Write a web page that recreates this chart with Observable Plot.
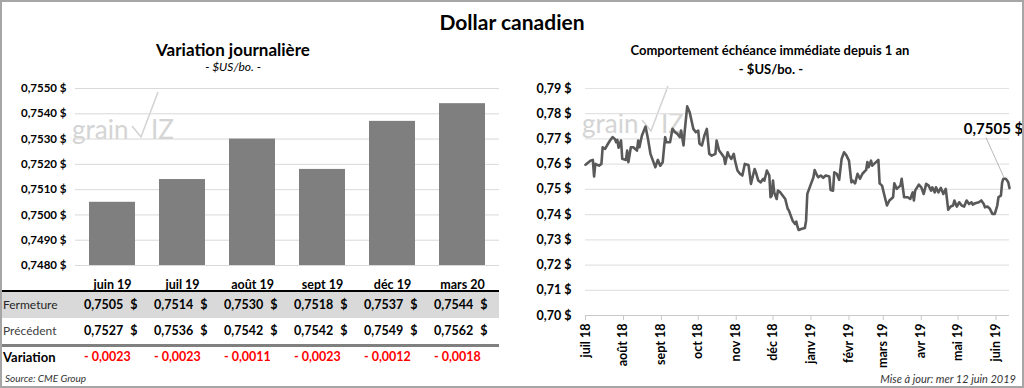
<!DOCTYPE html>
<html><head><meta charset="utf-8">
<script src="https://cdn.jsdelivr.net/npm/d3@7"></script>
<script src="https://cdn.jsdelivr.net/npm/@observablehq/plot@0.6"></script>
<style>
body{margin:0;background:#fff;font-family:Lato,"Open Sans",sans-serif;color:#000;}
#root{position:relative;width:1024px;height:388px;overflow:hidden;background:#fff;}
.abs{position:absolute;white-space:nowrap;}
.frame{position:absolute;left:0;top:0;width:1024px;height:388px;box-sizing:border-box;border:2px solid #a6a6a6;pointer-events:none;}
.wm{position:absolute;color:#d4d4d4;font-size:26px;font-weight:400;line-height:1;}
svg text{font-weight:700;}
</style></head><body><div id="root"></div>
<script>
// ---- left chart data ----
const contracts = ["juin 19","juil 19","août 19","sept 19","déc 19","mars 20"];
const fermeture = [0.7505,0.7514,0.7530,0.7518,0.7537,0.7544];
const precedent = [0.7527,0.7536,0.7542,0.7542,0.7549,0.7562];
const variation = [-0.0023,-0.0023,-0.0011,-0.0023,-0.0012,-0.0018];
const barTicks = [0.7480,0.7490,0.7500,0.7510,0.7520,0.7530,0.7540,0.7550];

// ---- right chart data ----
const startDate = "2018-07-01";
const endDate = "2019-06-12";
const dayOffsets = [0,4,6,7,8,11,13,14,16,18,20,22,24,25,26,27,29,30,33,34,35,37,39,42,43,44,46,49,51,53,56,57,59,61,63,64,65,66,69,71,73,75,77,78,80,81,83,85,88,90,92,93,95,97,99,101,103,106,107,109,111,113,114,116,117,119,121,122,124,126,128,130,133,135,136,138,139,141,143,145,146,148,150,151,152,153,154,156,157,159,161,163,165,166,169,171,172,173,174,176,179,180,181,184,186,187,189,190,192,194,196,199,200,202,203,205,207,209,211,213,215,217,218,220,222,224,226,229,230,231,233,234,237,239,240,242,244,246,248,251,252,254,257,258,260,263,265,267,268,269,272,274,276,278,280,282,283,285,286,288,290,292,294,296,298,300,301,303,305,307,309,311,313,315,316,318,321,323,325,326,328,330,332,334,336,337,339,340,341,343,345,346];
const closes = [0.7598,0.7614,0.7617,0.7551,0.7601,0.7594,0.7601,0.7667,0.7661,0.7678,0.7694,0.7707,0.7700,0.7687,0.7696,0.7665,0.7694,0.7621,0.7617,0.7654,0.7608,0.7667,0.7667,0.7654,0.7694,0.7667,0.7713,0.7749,0.7700,0.7641,0.7601,0.7588,0.7617,0.7594,0.7608,0.7661,0.7707,0.7687,0.7687,0.7740,0.7727,0.7720,0.7707,0.7733,0.7674,0.7733,0.7829,0.7806,0.7740,0.7727,0.7733,0.7681,0.7674,0.7713,0.7740,0.7641,0.7634,0.7641,0.7694,0.7654,0.7641,0.7627,0.7601,0.7647,0.7634,0.7621,0.7641,0.7614,0.7575,0.7562,0.7555,0.7601,0.7597,0.7522,0.7542,0.7581,0.7568,0.7535,0.7528,0.7542,0.7535,0.7575,0.7555,0.7469,0.7475,0.7535,0.7488,0.7462,0.7495,0.7488,0.7475,0.7462,0.7423,0.7416,0.7376,0.7363,0.7372,0.7352,0.7339,0.7343,0.7347,0.7376,0.7482,0.7522,0.7548,0.7577,0.7555,0.7548,0.7555,0.7546,0.7555,0.7551,0.7498,0.7495,0.7568,0.7562,0.7538,0.7621,0.7647,0.7634,0.7614,0.7528,0.7535,0.7524,0.7562,0.7542,0.7562,0.7577,0.7608,0.7588,0.7614,0.7594,0.7608,0.7617,0.7524,0.7515,0.7475,0.7436,0.7456,0.7469,0.7524,0.7502,0.7515,0.7542,0.7469,0.7469,0.7462,0.7488,0.7456,0.7495,0.7519,0.7508,0.7482,0.7522,0.7515,0.7495,0.7508,0.7488,0.7508,0.7488,0.7506,0.7482,0.7502,0.7419,0.7432,0.7436,0.7456,0.7432,0.7449,0.7436,0.7432,0.7456,0.7442,0.7449,0.7440,0.7445,0.7449,0.7456,0.7442,0.7429,0.7432,0.7423,0.7403,0.7403,0.7436,0.7469,0.7475,0.7528,0.7542,0.7542,0.7528,0.7505];
const lineTicks = [0.70,0.71,0.72,0.73,0.74,0.75,0.76,0.77,0.78,0.79];
const monthTickLabels = ["juil 18","août 18","sept 18","oct 18","nov 18","déc 18","janv 19","févr 19","mars 19","avr 19","mai 19","juin 19"];
const lastLabel = "0,7505 $";

// ---- helpers ----
const frNum = (v, d) => v.toFixed(d).replace(".", ",");
const root = document.getElementById("root");
function addDiv(html, css, cls="abs"){
  const el = document.createElement("div");
  el.className = cls; el.innerHTML = html; el.style.cssText += css; root.appendChild(el); return el;
}
function watermark(left, top){
  addDiv("grain", `left:${left}px;top:${top}px;`, "wm");
  const s = document.createElementNS("http://www.w3.org/2000/svg","svg");
  s.setAttribute("width", 60); s.setAttribute("height", 50);
  s.style.cssText = `position:absolute;left:${left+56}px;top:${top-26}px;`;
  s.innerHTML = `<polyline points="4,36 13,47 30,2" fill="none" stroke="#d4d4d4" stroke-width="1.6"/>`;
  root.appendChild(s);
  addDiv("IZ", `left:${left+79}px;top:${top}px;`, "wm");
}

// ---- titles ----
addDiv("Dollar canadien", "left:0;width:1024px;text-align:center;top:9px;font-size:21px;font-weight:700;");
addDiv("Variation journalière", "left:0;width:466px;text-align:center;top:39px;font-size:17px;font-weight:700;");
addDiv("- $US/bo. -", "left:0;width:466px;text-align:center;top:59px;font-size:12px;font-style:italic;");
addDiv("Comportement échéance immédiate depuis 1 an", "left:515px;width:510px;text-align:center;top:42px;font-size:13px;font-weight:700;");
addDiv("- $US/bo. -", "left:515px;width:512px;text-align:center;top:61px;font-size:13px;font-weight:700;");

watermark(72, 116);
watermark(582, 110);

// ---- table backgrounds (drawn under the chart so labels stay visible) ----
addDiv("", "left:0;top:292px;width:499px;height:26px;background:#d9d9d9;");
addDiv("", "left:0;top:290px;width:499px;height:2px;background:#000;");
addDiv("", "left:0;top:344px;width:499px;height:3px;background:#808080;");

// ---- left bar chart ----
const barData = contracts.map((c,i)=>({contract:c, value:fermeture[i]}));
const LEFT_TOP = 78;
const bar = Plot.plot({
  width: 505, height: 220,
  marginLeft: 75, marginRight: 6, marginTop: 10, marginBottom: 33,
  style: {fontFamily: "Lato, 'Open Sans', sans-serif", background: "transparent", overflow: "visible", fontWeight: "bold"},
  x: {domain: contracts, paddingInner: 0.34, paddingOuter: 0.17, label: null},
  y: {domain: [0.7480, 0.7550], label: null},
  marks: [
    Plot.gridY(barTicks, {stroke: "#d9d9d9", strokeOpacity: 1}),
    Plot.barY(barData, {x: "contract", y1: 0.7480, y2: "value", fill: "#7f7f7f"}),
    Plot.axisY(barTicks, {label: null, tickSize: 0, tickPadding: 9, tickFormat: d => frNum(d,4) + " $", fontSize: 11.5, fontWeight: "bold", fill: "#000"}),
    Plot.axisX({label: null, tickSize: 0, tickPadding: 15, fontSize: 12.5, fontWeight: "bold", fill: "#000"})
  ]
});
bar.style.cssText += `position:absolute;left:0;top:${LEFT_TOP}px;`;
root.appendChild(bar);

// ---- table ----
addDiv("Fermeture", "left:3px;top:292px;line-height:26px;font-size:12px;color:#262626;");
addDiv("Précédent", "left:3px;top:318px;line-height:26px;font-size:12px;color:#404040;");
addDiv("Variation", "left:3px;top:345px;line-height:24px;font-size:13px;font-weight:700;");
const xs = bar.scale("x");
contracts.forEach((c,i)=>{
  const cx = xs.apply(c) + xs.bandwidth/2;
  const left = cx - 28;
  addDiv(`${frNum(fermeture[i],4)}<span style="margin-left:7px">$</span>`, `left:${left}px;top:292px;line-height:26px;font-size:12.5px;font-weight:700;`);
  addDiv(`${frNum(precedent[i],4)}<span style="margin-left:7px">$</span>`, `left:${left}px;top:318px;line-height:26px;font-size:12.5px;font-weight:700;`);
  const v = variation[i];
  addDiv(`${v<0?"- ":""}${frNum(Math.abs(v),4)}`, `left:${left}px;top:345px;line-height:24px;font-size:12.5px;font-weight:700;color:#ff0000;`);
});
addDiv("Source: CME Group", "left:5px;top:372px;font-size:10px;font-style:italic;color:#333;");

// ---- right line chart ----
const t0 = new Date(startDate + "T00:00:00Z");
const lineData = dayOffsets.map((d,i)=>({date: d3.utcDay.offset(t0, d), close: closes[i]}));
const monthTicks = d3.utcMonth.range(t0, new Date("2019-06-02T00:00:00Z"));
const RIGHT_LEFT = 515, RIGHT_TOP = 78;
const last = lineData[lineData.length-1];
const line = Plot.plot({
  width: 509, height: 285,
  marginLeft: 70, marginRight: 15, marginTop: 10, marginBottom: 48,
  style: {fontFamily: "Lato, 'Open Sans', sans-serif", background: "transparent", overflow: "visible", fontWeight: "bold"},
  x: {type: "utc", domain: [t0, new Date(endDate + "T00:00:00Z")], label: null},
  y: {domain: [0.70, 0.79], label: null},
  marks: [
    Plot.gridY(lineTicks.slice(1), {stroke: "#e3e3e3", strokeOpacity: 1, strokeWidth: 1.2}),
    Plot.ruleY([0.70], {stroke: "#c8c8c8", strokeWidth: 1.2}),
    Plot.axisY(lineTicks, {label: null, tickSize: 0, tickPadding: 14, tickFormat: d => frNum(d,2) + " $", fontSize: 12.5, fontWeight: "bold", fill: "#000"}),
    Plot.axisX(monthTicks, {label: null, tickSize: 5, tickPadding: 3, tickRotate: -90, stroke: "#c8c8c8",
      tickFormat: d => monthTickLabels[monthTicks.findIndex(t => +t === +d)], fontSize: 12.5, fontWeight: "bold", fill: "#000"}),
    Plot.line(lineData, {x: "date", y: "close", stroke: "#595959", strokeWidth: 2.6, strokeLinejoin: "round"}),
    Plot.text([last], {x: "date", y: "close", text: () => lastLabel, dx: -16, dy: -59, fontSize: 15, fontWeight: "bold", fill: "#000"})
  ]
});
line.style.cssText += `position:absolute;left:${RIGHT_LEFT}px;top:${RIGHT_TOP}px;`;
root.appendChild(line);
// leader line for the last-value label
{
  const sx = line.scale("x"), sy = line.scale("y");
  const px = sx.apply(last.date), py = sy.apply(last.close);
  const l = document.createElementNS("http://www.w3.org/2000/svg","line");
  l.setAttribute("x1", px - 5); l.setAttribute("y1", py - 10);
  l.setAttribute("x2", px - 23); l.setAttribute("y2", py - 50);
  l.setAttribute("stroke", "#a6a6a6"); l.setAttribute("stroke-width", 0.8);
  line.appendChild(l);
}
addDiv("Mise à jour: mer 12 juin 2019", "right:8px;top:372px;font-size:11px;font-style:italic;color:#333;");

root.appendChild(Object.assign(document.createElement("div"), {className: "frame"}));
</script>
</body></html>
